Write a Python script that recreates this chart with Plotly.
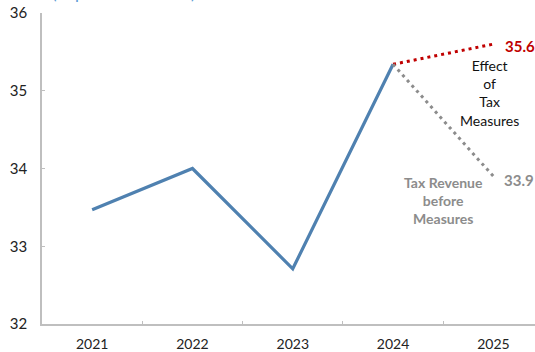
import plotly.graph_objects as go

years = ["2021", "2022", "2023", "2024", "2025"]
tax_revenue = [33.47, 34.0, 32.71, 35.34]
effect_years = ["2024", "2025"]
effect_values = [35.34, 35.6]
before_values = [35.34, 33.9]

W, H = 535, 352
L, T, B, R = 42, 13, 28, 0
pw, ph = W - L - R, H - T - B

def px(x):
    return (x - L) / pw

def py(y):
    return (H - B - y) / ph

fig = go.Figure()
fig.add_trace(go.Scatter(x=years[:4], y=tax_revenue, mode="lines",
                         line=dict(color="#4f81b0", width=3.2), hoverinfo="skip"))
fig.add_trace(go.Scatter(x=effect_years, y=effect_values, mode="lines",
                         line=dict(color="#c00000", width=3, dash="3px,4px"), hoverinfo="skip"))
fig.add_trace(go.Scatter(x=effect_years, y=before_values, mode="lines",
                         line=dict(color="#8c8c8c", width=3, dash="3px,4px"), hoverinfo="skip"))

font = "Lato"
ann = [
    dict(text="(In percent of GDP)", x=px(50), y=py(5), xanchor="left", yanchor="bottom",
         font=dict(size=17, color="#5b9bd5", family=font)),
    dict(text="<b>35.6</b>", x=px(520), y=py(46), xanchor="center", yanchor="middle",
         font=dict(size=15, color="#c00000", family=font)),
    dict(text="Effect<br>of<br>Tax<br>Measures", x=px(489), y=py(93), xanchor="center", yanchor="middle",
         font=dict(size=14, color="#111111", family=font)),
    dict(text="<b>33.9</b>", x=px(519), y=py(180), xanchor="center", yanchor="middle",
         font=dict(size=15, color="#8c8c8c", family=font)),
    dict(text="<b>Tax Revenue<br>before<br>Measures</b>", x=px(443), y=py(200), xanchor="center", yanchor="middle",
         font=dict(size=14, color="#8c8c8c", family=font)),
]
for a in ann:
    a.update(xref="paper", yref="paper", showarrow=False)

fig.update_layout(
    width=W, height=H,
    margin=dict(l=L, r=R, t=T, b=B, pad=0),
    plot_bgcolor="white", paper_bgcolor="white",
    showlegend=False,
    annotations=ann,
    font=dict(family=font, size=14, color="#222222"),
    xaxis=dict(type="category", categoryorder="array", categoryarray=years,
               range=[-0.5, 4.415], tickson="boundaries", ticks="inside", ticklen=3,
               tickcolor="#bfbfbf", showline=True, linecolor="#bfbfbf", linewidth=1.5,
               showgrid=False, zeroline=False, tickfont=dict(size=14),
               ticklabelstandoff=6),
    yaxis=dict(range=[32, 36], tickvals=[32, 33, 34, 35, 36], ticks="inside", ticklen=3,
               tickcolor="#bfbfbf", showline=True, linecolor="#bfbfbf", linewidth=1.5,
               showgrid=False, zeroline=False, tickfont=dict(size=15),
               ticklabelstandoff=10),
)
fig.write_html("out.html")
